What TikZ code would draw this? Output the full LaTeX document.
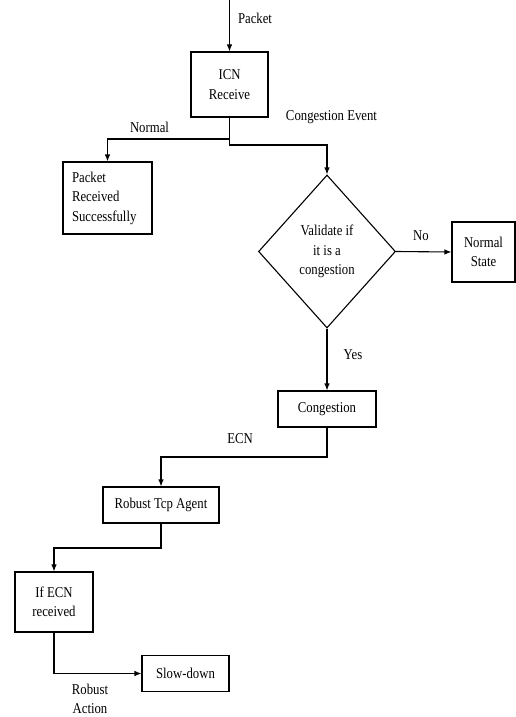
\documentclass[tikz,border=0pt]{standalone}
\usepackage{fontspec}
\setmainfont{Liberation Serif}[FakeStretch=0.85]
\usetikzlibrary{shapes.geometric,arrows.meta}

\tikzset{
  txt/.style={font=\fontsize{15}{19.5}\selectfont, inner sep=0pt},
  box/.style={draw, txt, rectangle, align=center, line width=1.1pt},
  decision/.style={draw, txt, diamond, align=center, line width=1.1pt, inner sep=0pt},
  link/.style={line width=1.1pt},
  arr/.style={link, -{Latex[length=7pt,width=5.5pt]}},
  lbl/.style={txt, align=center}
}

\begin{document}
\begin{tikzpicture}[x=1pt, y=-1pt]
  \useasboundingbox (0,0) rectangle (516,717);

  % process boxes
  \node[box, minimum width=77, minimum height=65] (icn) at (229.5,84.5) {ICN\\Receive};
  \node[box, align=left, text width=71, inner xsep=9pt, minimum height=72] (prs) at (107.5,198) {Packet\\Received\\Successfully};
  \node[decision, minimum width=137, minimum height=153] (dia) at (327,251.5) {Validate if\\it is a\\congestion};
  \node[box, minimum width=63, minimum height=60] (ns) at (483.5,252) {Normal\\State};
  \node[box, minimum width=98, minimum height=36] (cong) at (327,409) {Congestion};
  \node[box, minimum width=116, minimum height=36] (rta) at (161,505) {Robust Tcp Agent};
  \node[box, minimum width=78, minimum height=60] (ifecn) at (54,602) {If ECN\\received};
  \node[box, minimum width=87, minimum height=36] (slow) at (185.5,673.5) {Slow-down};

  % bend points of the connectors
  \coordinate (pin) at (229.5,0);
  \coordinate (jl) at (229.5,139);
  \coordinate (jr) at (229.5,145);
  \coordinate (ce) at (327,457);
  \coordinate (re) at (161,548);
  \coordinate (ie) at (54,673.5);

  % connectors
  \draw[arr] (pin) -- (icn.north);
  \draw[arr] (icn.south) -- (jr) -| (dia.north);
  \draw[arr] (jl) -| (prs.north);
  \draw[arr] (dia.east) -- (ns.west);
  \draw[arr] (dia.south) -- (cong.north);
  \draw[arr] (cong.south) -- (ce) -| (rta.north);
  \draw[arr] (rta.south) -- (re) -| (ifecn.north);
  \draw[arr] (ifecn.south) -- (ie) -- (slow.west);

  % connector labels
  \node[lbl] (lpacket) at (255,18) {Packet};
  \node[lbl] (lnormal) at (149.5,127) {Normal};
  \node[lbl] (lcev) at (331.5,117) {Congestion Event};
  \node[lbl] (lno) at (421,236) {No};
  \node[lbl] (lyes) at (353,355) {Yes};
  \node[lbl] (lecn) at (240,439) {ECN};
  \node[lbl] (lrob) at (90,699) {Robust\\Action};
\end{tikzpicture}
\end{document}
